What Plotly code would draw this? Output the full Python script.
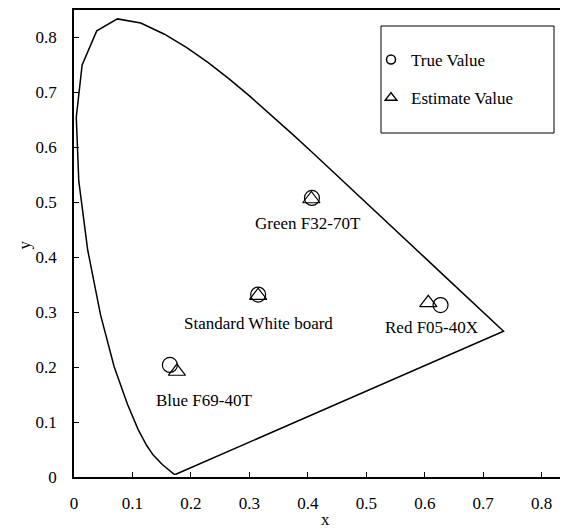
import plotly.graph_objects as go

# CIE 1931 spectral locus (x, y), 380-700 nm at 5 nm
locus_x = [0.1741, 0.1740, 0.1738, 0.1736, 0.1733, 0.1730, 0.1726, 0.1721, 0.1714, 0.1703,
           0.1689, 0.1669, 0.1644, 0.1611, 0.1566, 0.1510, 0.1440, 0.1355, 0.1241, 0.1096,
           0.0913, 0.0687, 0.0454, 0.0235, 0.0082, 0.0039, 0.0139, 0.0389, 0.0743, 0.1142,
           0.1547, 0.1929, 0.2296, 0.2658, 0.3016, 0.3373, 0.3731, 0.4087, 0.4441, 0.4788,
           0.5125, 0.5448, 0.5752, 0.6029, 0.6270, 0.6482, 0.6658, 0.6801, 0.6915, 0.7006,
           0.7079, 0.7140, 0.7190, 0.7230, 0.7260, 0.7283, 0.7300, 0.7311, 0.7320, 0.7327,
           0.7334, 0.7340, 0.7344, 0.7346, 0.7347, 0.1741]
locus_y = [0.0050, 0.0050, 0.0049, 0.0049, 0.0048, 0.0048, 0.0048, 0.0048, 0.0051, 0.0058,
           0.0069, 0.0086, 0.0109, 0.0138, 0.0177, 0.0227, 0.0297, 0.0399, 0.0578, 0.0868,
           0.1327, 0.2007, 0.2950, 0.4127, 0.5384, 0.6548, 0.7502, 0.8120, 0.8338, 0.8262,
           0.8059, 0.7816, 0.7543, 0.7243, 0.6923, 0.6589, 0.6245, 0.5896, 0.5547, 0.5202,
           0.4866, 0.4544, 0.4242, 0.3965, 0.3725, 0.3514, 0.3340, 0.3197, 0.3083, 0.2993,
           0.2920, 0.2859, 0.2809, 0.2770, 0.2740, 0.2717, 0.2700, 0.2689, 0.2680, 0.2673,
           0.2666, 0.2660, 0.2656, 0.2654, 0.2653, 0.0050]

samples = ["Green F32-70T", "Standard White board", "Red F05-40X", "Blue F69-40T"]
true_x = [0.407, 0.315, 0.627, 0.164]
true_y = [0.508, 0.332, 0.313, 0.204]
est_x = [0.406, 0.315, 0.606, 0.176]
est_y = [0.506, 0.330, 0.317, 0.192]
label_x = [0.400, 0.315, 0.612, 0.223]
label_y = [0.462, 0.280, 0.273, 0.140]

FONT = "Liberation Serif"

fig = go.Figure()
fig.add_trace(go.Scatter(x=locus_x, y=locus_y, mode="lines",
                         line=dict(color="black", width=1.5), showlegend=False, hoverinfo="skip"))
fig.add_trace(go.Scatter(x=true_x, y=true_y, mode="markers", showlegend=False,
                         marker=dict(symbol="circle-open", size=15, color="black", line=dict(width=1.2))))
fig.add_trace(go.Scatter(x=est_x, y=est_y, mode="markers", showlegend=False,
                         marker=dict(symbol="triangle-up-open", size=15, color="black", line=dict(width=1.2))))
# legend entries
fig.add_trace(go.Scatter(x=[None], y=[None], mode="markers", name="True Value", legendgroup="a",
                         marker=dict(symbol="circle-open", size=9, color="black", line=dict(width=1.5))))
fig.add_trace(go.Scatter(x=[None], y=[None], mode="markers", name="Estimate Value", legendgroup="b",
                         marker=dict(symbol="triangle-up-open", size=10, color="black", line=dict(width=1.5))))

for t, lx, ly in zip(samples, label_x, label_y):
    fig.add_annotation(x=lx, y=ly, text=t, showarrow=False, font=dict(family=FONT, size=17, color="black"))

# page has an 8px body margin: figure spans page px 8..568 x 8..532
OFF = 8
W, H = 568 - OFF, 532 - OFF
L, R, T = 74 - OFF, 0, 10 - OFF
B = H - (477 - OFF)
pw, ph = W - L - R, H - T - B


def px2paper(px, py):
    # px, py are page pixel coordinates
    return (px - OFF - L) / pw, (H - B - (py - OFF)) / ph


x0, y1 = px2paper(381, 26)
x1, y0 = px2paper(554, 133)
fig.add_shape(type="rect", xref="paper", yref="paper", x0=x0, x1=x1, y0=y0, y1=y1,
              line=dict(color="black", width=1))

# axis titles
tx, ty = px2paper(325, 531)
fig.add_annotation(x=tx, y=ty, xref="paper", yref="paper", text="x", showarrow=False,
                   font=dict(family=FONT, size=17), yanchor="bottom")
tx, ty = px2paper(12, 245)
fig.add_annotation(x=tx, y=ty, xref="paper", yref="paper", text="y", showarrow=False,
                   font=dict(family=FONT, size=17), textangle=-90)

lx, ly = px2paper(371, 42)
fig.update_layout(
    width=W, height=H, margin=dict(l=L, r=R, t=T, b=B, autoexpand=False),
    plot_bgcolor="white", paper_bgcolor="white",
    font=dict(family=FONT, size=17, color="black"),
    legend=dict(x=lx, y=ly, xanchor="left", yanchor="top", bgcolor="rgba(0,0,0,0)",
                borderwidth=0, tracegroupgap=13, font=dict(family=FONT, size=17)),
    xaxis=dict(range=[0, 0.845], dtick=0.1, tick0=0, ticks="inside", ticklen=5, tickcolor="black",
               showline=True, linecolor="black", linewidth=1.5, mirror=True, showgrid=False,
               zeroline=False, automargin=False, ticklabelstandoff=10),
    yaxis=dict(range=[0, 0.85], dtick=0.1, tick0=0, ticks="inside", ticklen=5, tickcolor="black",
               showline=True, linecolor="black", linewidth=1.5, showgrid=False,
               zeroline=False, automargin=False, ticklabelstandoff=12),
)

fig.write_html("out.html")
